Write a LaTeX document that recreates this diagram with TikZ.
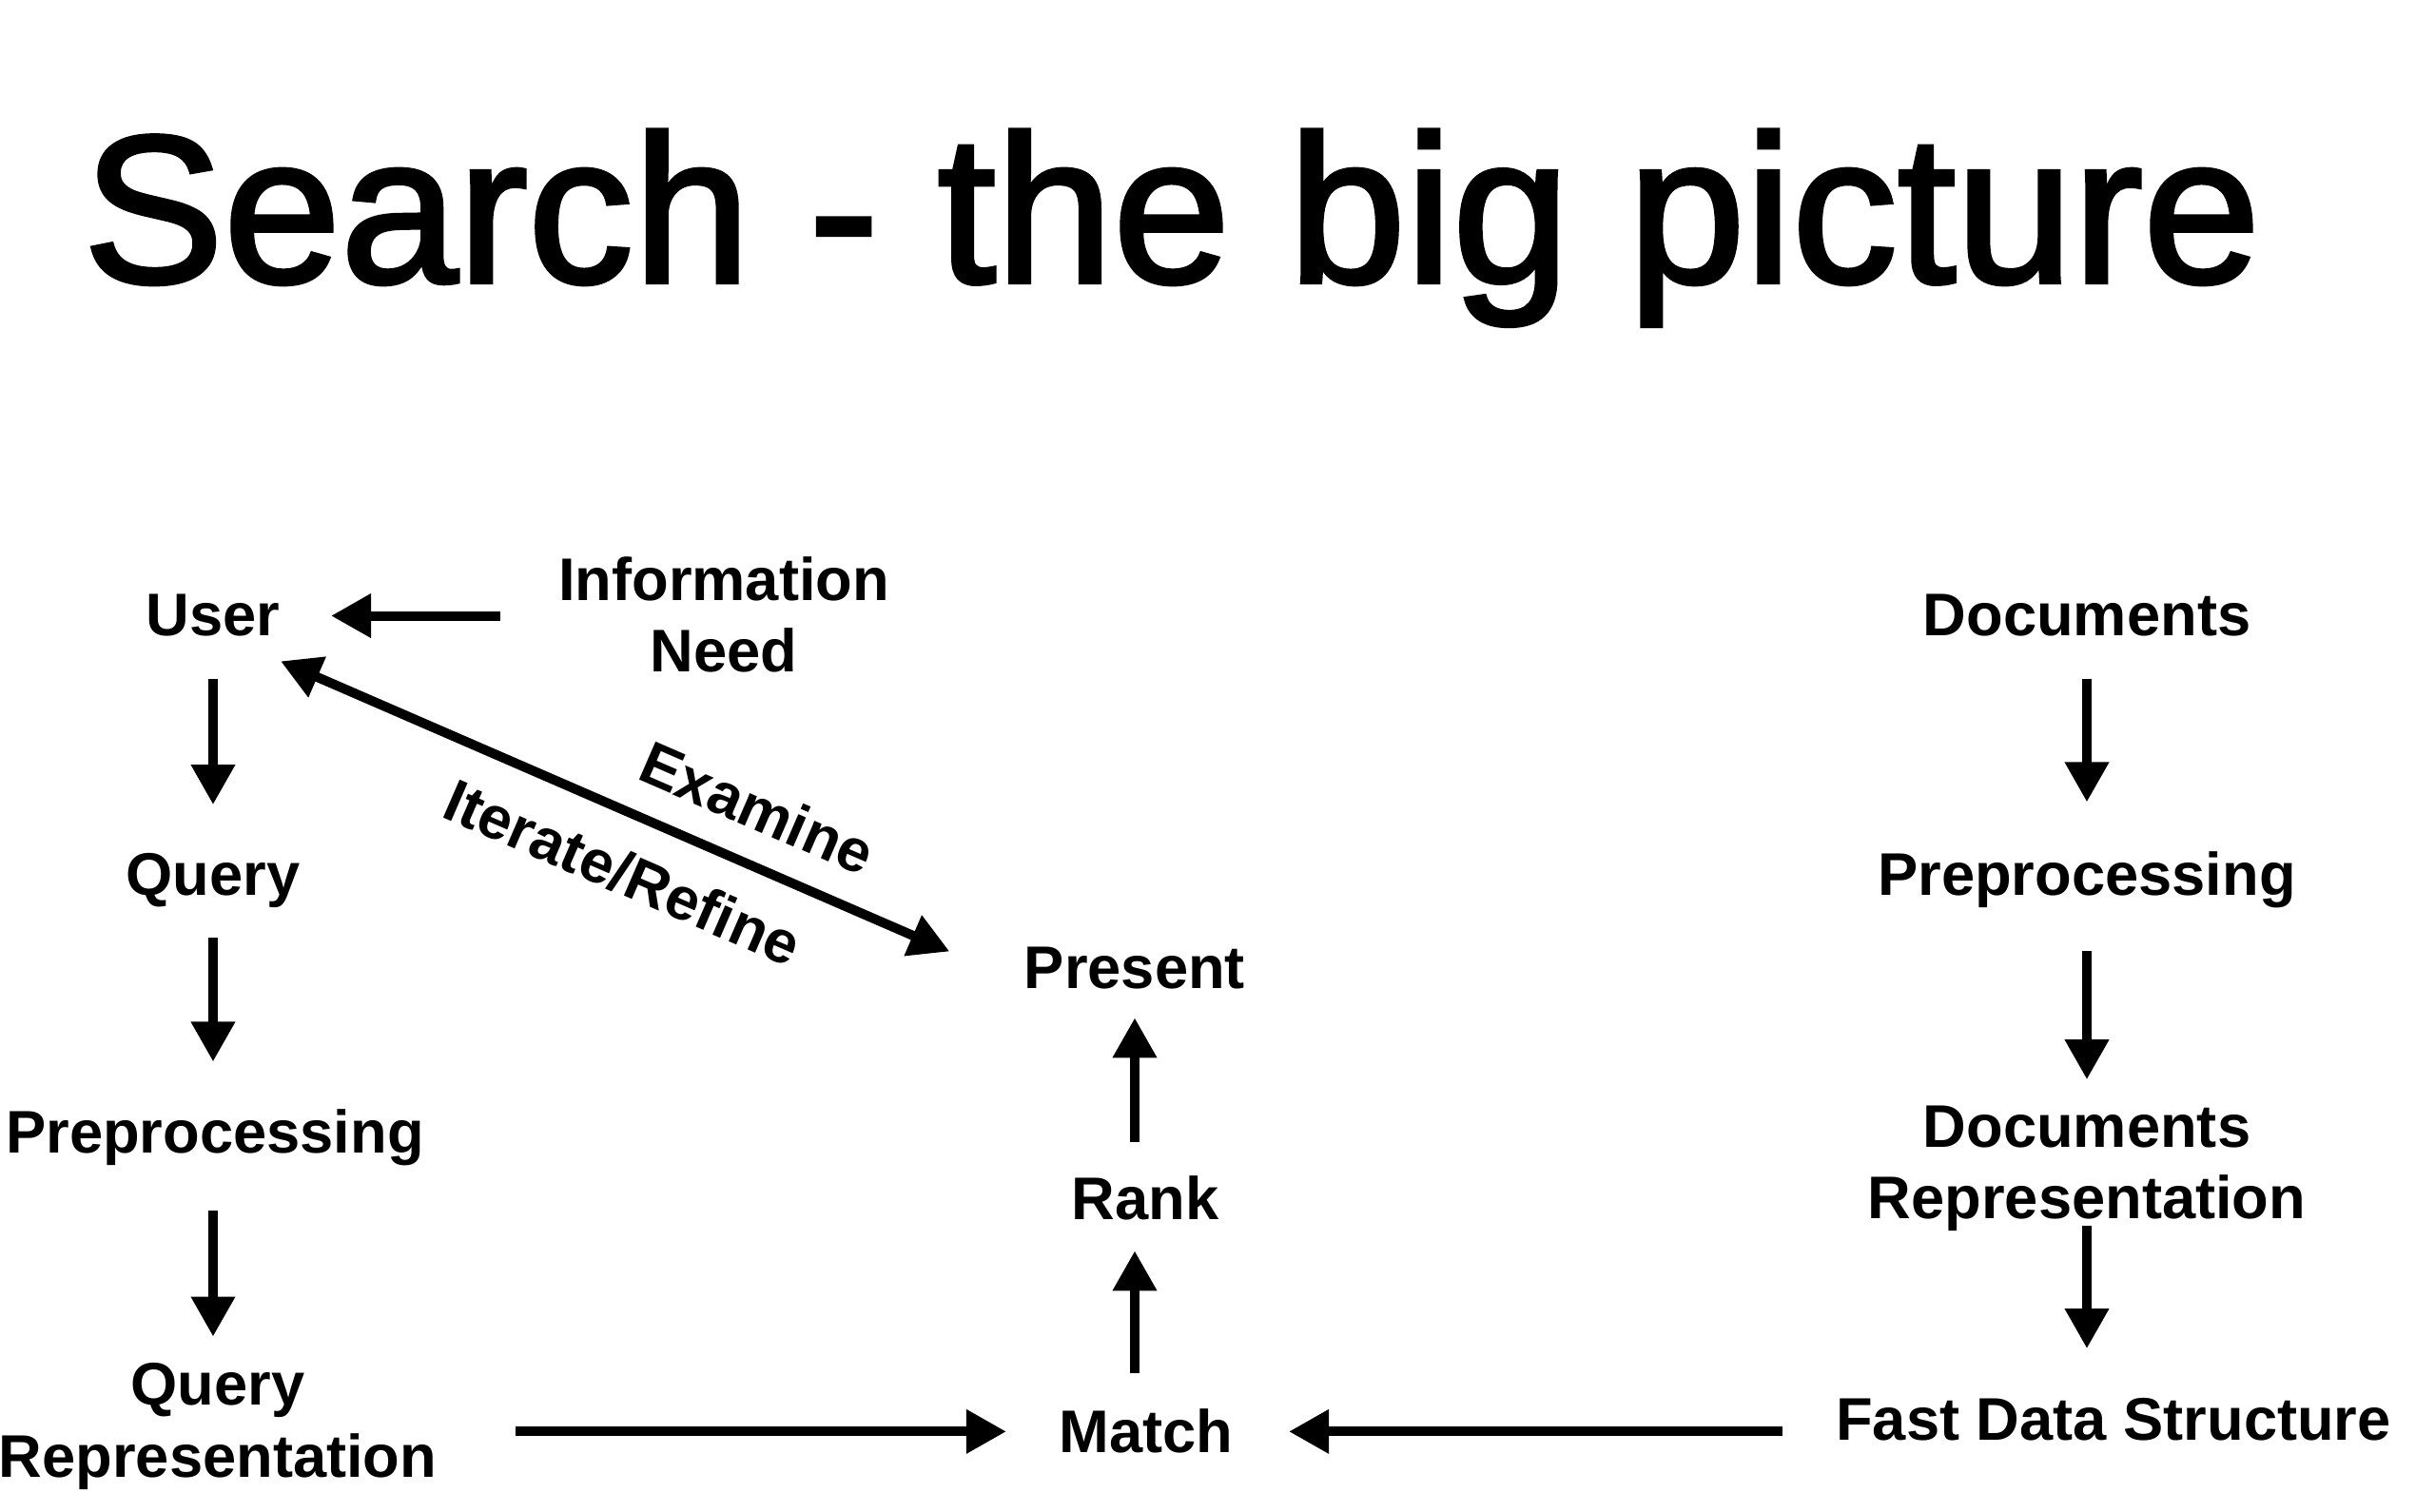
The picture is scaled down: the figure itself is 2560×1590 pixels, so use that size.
\documentclass[tikz,border=0pt]{standalone}
\usepackage{fontspec}
\setmainfont{Liberation Sans}
\newfontfamily\titlefont{Liberation Sans}[RawFeature={embolden=2}]
\usetikzlibrary{arrows.meta,calc}

\begin{document}
\begin{tikzpicture}[x=0.1mm,y=-0.1mm,
  lbl/.style={font=\fontsize{18}{21.5}\selectfont\bfseries, inner sep=0pt, align=center, anchor=base},
  heading/.style={font=\titlefont\fontsize{63}{75}\selectfont, inner sep=0pt, anchor=base},
  arr/.style={line width=1mm, -{Triangle[length=4.2mm,width=4.4mm]}},
  dblarr/.style={line width=1mm, {Triangle[length=4.2mm,width=4.4mm]}-{Triangle[length=4.2mm,width=4.4mm]}}]

\fill[white] (0,0) rectangle (2560,1590);
\useasboundingbox (0,0) rectangle (2560,1590);

\node[heading] (title) at (1232,297) {Search - the big picture};

% query side (multi-line nodes sit on the baseline of their last line)
\node[lbl] (user)   at (224,669)  {User};
\node[lbl] (need)   at (761,707)  {Information\\Need};
\node[lbl] (query)  at (224,942)  {Query};
\node[lbl] (prepq)  at (226,1213) {Preprocessing};
\node[lbl] (qrep)   at (229,1553) {Query\\Representation};

% middle column
\node[lbl] (present) at (1193,1040) {Present};
\node[lbl] (rank)    at (1204,1283) {Rank};
\node[lbl] (match)   at (1205,1528) {Match};

% document side
\node[lbl] (docs)   at (2194,669)  {Documents};
\node[lbl] (prepd)  at (2194,942)  {Preprocessing};
\node[lbl] (drep)   at (2194,1282) {Documents\\Representation};
\node[lbl] (fds)    at (2222,1515) {Fast Data Structure};

% query chain
\draw[arr, shorten <=6mm, shorten >=5.3mm] (need.west |- user.east) -- (user.east);
\draw[arr, shorten <=4.4mm, shorten >=5.1mm] (user.south) -- (query.north -| user.south);
\draw[arr, shorten <=3mm, shorten >=5mm] (query.south) -- (prepq.north -| query.south);
\draw[arr, shorten <=4.6mm, shorten >=2.7mm] (prepq.south -| query.south) -- (qrep.north -| query.south);

% document chain
\draw[arr, shorten <=4.4mm, shorten >=5.2mm] (docs.south) -- (prepd.north);
\draw[arr, shorten <=4.4mm, shorten >=2.7mm] (prepd.south) -- (drep.north);
\draw[arr, shorten <=-0.7mm, shorten >=5.2mm] (drep.south) -- (fds.north -| drep.south);

% matching and ranking
\draw[arr, shorten <=8.2mm, shorten >=5.5mm] (qrep.east |- match.west) -- (match.west);
\draw[arr, shorten <=5.6mm, shorten >=5.8mm] (fds.west |- match.east) -- (match.east);
\draw[arr, shorten <=3.7mm, shorten >=3.1mm] (match.north -| present.south) -- (rank.south -| present.south);
\draw[arr, shorten <=3.5mm, shorten >=2.9mm] (rank.north -| present.south) -- (present.south);

% feedback loop between user and presented results
\draw[dblarr] ($(user.south east)+(0,25)$) -- ($(present.west)+(-78,-18)$)
  node[lbl, pos=0.68, sloped, anchor=south, yshift=3mm] (examine) {Examine}
  node[lbl, pos=0.546, sloped, anchor=north, yshift=-3.2mm] (iterate) {Iterate/Refine};

\end{tikzpicture}
\end{document}
